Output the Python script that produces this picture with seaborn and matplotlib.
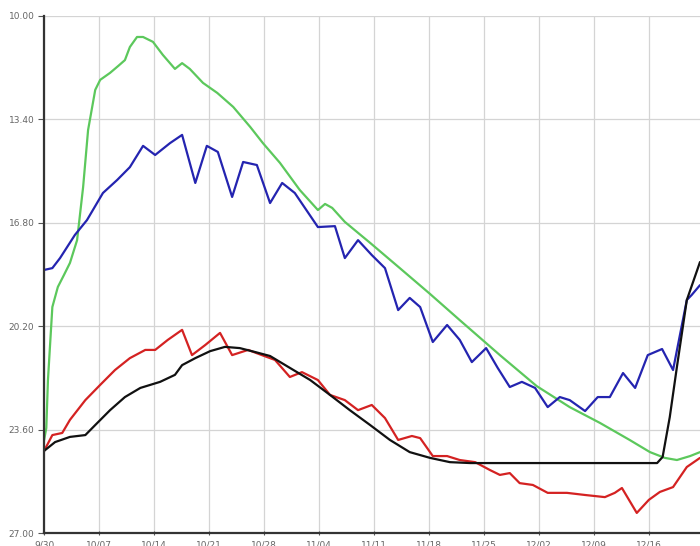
import numpy as np
import pandas as pd
import matplotlib
matplotlib.use("Agg")
import matplotlib.pyplot as plt
import seaborn as sns

# =============================================
# data (x in tick units, y in axis units)
green_x = [0, 0.04, 0.07, 0.15, 0.25, 0.36, 0.47, 0.60, 0.71, 0.80, 0.93, 1.02, 1.20, 1.35,
           1.47, 1.56, 1.69, 1.80, 1.98, 2.16, 2.38, 2.51, 2.65, 2.89, 3.15, 3.44, 3.75, 3.98,
           4.29, 4.65, 4.98, 5.11, 5.24, 5.47, 5.93, 6.47, 7.02, 7.56, 8.29, 8.96, 9.56, 10.11,
           10.65, 11.02, 11.29, 11.51, 11.75, 11.93]
green_y = [23.94, 23.55, 21.97, 19.57, 18.91, 18.52, 18.12, 17.37, 15.62, 13.75, 12.43, 12.10,
           11.87, 11.64, 11.45, 11.02, 10.69, 10.69, 10.85, 11.28, 11.74, 11.55, 11.74, 12.20,
           12.53, 12.99, 13.65, 14.18, 14.83, 15.72, 16.38, 16.18, 16.31, 16.77, 17.46, 18.29,
           19.14, 20.00, 21.15, 22.17, 22.86, 23.38, 23.94, 24.34, 24.53, 24.60, 24.47, 24.34]

blue_x = [0, 0.15, 0.29, 0.56, 0.78, 1.07, 1.33, 1.56, 1.80, 2.02, 2.29, 2.51, 2.75, 2.96,
          3.16, 3.42, 3.62, 3.87, 4.11, 4.33, 4.56, 4.98, 5.29, 5.47, 5.71, 5.96, 6.20, 6.44,
          6.65, 6.84, 7.07, 7.33, 7.56, 7.78, 8.04, 8.25, 8.47, 8.69, 8.93, 9.16, 9.38, 9.56,
          9.84, 10.07, 10.29, 10.53, 10.75, 10.98, 11.24, 11.44, 11.69, 11.78, 11.93]
blue_y = [18.35, 18.29, 17.96, 17.20, 16.71, 15.82, 15.39, 14.97, 14.27, 14.57, 14.18, 13.91,
          15.49, 14.27, 14.47, 15.95, 14.80, 14.90, 16.15, 15.49, 15.82, 16.94, 16.91, 17.96,
          17.37, 17.86, 18.29, 19.67, 19.27, 19.57, 20.72, 20.16, 20.65, 21.38, 20.92, 21.57,
          22.20, 22.03, 22.23, 22.86, 22.53, 22.63, 22.99, 22.53, 22.53, 21.74, 22.23, 21.15,
          20.95, 21.64, 19.34, 19.17, 18.85]

red_x = [0, 0.15, 0.33, 0.47, 0.75, 1.02, 1.29, 1.56, 1.84, 2.02, 2.25, 2.51, 2.69, 2.93,
         3.20, 3.42, 3.71, 3.96, 4.20, 4.47, 4.69, 4.98, 5.20, 5.47, 5.71, 5.96, 6.20, 6.44,
         6.69, 6.84, 7.07, 7.33, 7.56, 7.84, 8.11, 8.29, 8.47, 8.65, 8.89, 9.16, 9.51, 9.84,
         10.20, 10.38, 10.51, 10.78, 11.00, 11.20, 11.44, 11.69, 11.93]
red_y = [24.30, 23.78, 23.71, 23.28, 22.63, 22.13, 21.64, 21.25, 20.98, 20.98, 20.65, 20.32,
         21.15, 20.82, 20.42, 21.15, 20.98, 21.15, 21.31, 21.87, 21.71, 21.97, 22.46, 22.63,
         22.96, 22.79, 23.22, 23.94, 23.81, 23.88, 24.47, 24.47, 24.60, 24.67, 24.93, 25.09,
         25.03, 25.36, 25.42, 25.68, 25.68, 25.75, 25.82, 25.68, 25.52, 26.34, 25.91, 25.65,
         25.49, 24.83, 24.53]

black_x = [0, 0.20, 0.47, 0.75, 0.93, 1.20, 1.47, 1.75, 2.11, 2.38, 2.51, 2.75, 3.02, 3.29,
           3.56, 3.84, 4.11, 4.47, 4.84, 5.20, 5.56, 5.93, 6.29, 6.65, 7.02, 7.38, 7.75, 9.38,
           11.15, 11.25, 11.38, 11.51, 11.69, 11.93]
black_y = [24.30, 24.01, 23.84, 23.78, 23.45, 22.96, 22.53, 22.23, 22.03, 21.80, 21.48, 21.25,
           21.02, 20.88, 20.92, 21.05, 21.18, 21.57, 21.97, 22.46, 22.96, 23.45, 23.94, 24.34,
           24.53, 24.67, 24.70, 24.70, 24.70, 24.50, 23.19, 21.54, 19.34, 18.09]

y_ticks = [10.00, 13.40, 16.80, 20.20, 23.60, 27.00]
x_ticks = list(range(12))
x_labels = ['9/30', '10/07', '10/14', '10/21', '10/28', '11/04', '11/11', '11/18',
            '11/25', '12/02', '12/09', '12/16']

series = [(green_x, green_y, '#5cc85c'), (blue_x, blue_y, '#2424b0'),
          (red_x, red_y, '#d42222'), (black_x, black_y, '#111111')]

# =============================================
sns.set_style("white")

fig = plt.figure(figsize=(7, 5.46), dpi=100)
ax = fig.add_axes([0.063, 0.0238, 0.937, 0.9469])

for xs, ys, col in series:
    df = pd.DataFrame({'x': xs, 'y': ys})
    sns.lineplot(data=df, x='x', y='y', color=col, linewidth=1.6,
                 estimator=None, sort=False, ax=ax)

ax.set_xlim(0, 11.93)
ax.set_ylim(27, 10)
ax.set_xticks(x_ticks)
ax.set_xticklabels(x_labels)
ax.set_yticks(y_ticks)
ax.set_yticklabels(['%.2f' % v for v in y_ticks])
ax.set_xlabel('')
ax.set_ylabel('')

ax.grid(True, color='#d4d4d4', linewidth=0.9)
for s in ['top', 'right']:
    ax.spines[s].set_visible(False)
for s in ['left', 'bottom']:
    ax.spines[s].set_color('#333333')
    ax.spines[s].set_linewidth(1.6)

ax.tick_params(axis='y', which='both', left=True, length=4, width=0.8,
               color='#555555', labelsize=6.5, labelcolor='#666666', pad=3)
ax.tick_params(axis='x', which='both', bottom=True, length=3, width=0.8,
               direction='inout', color='#555555', labelsize=6.5,
               labelcolor='#666666', pad=4)

plt.savefig('out.png', dpi=100)
plt.close()
